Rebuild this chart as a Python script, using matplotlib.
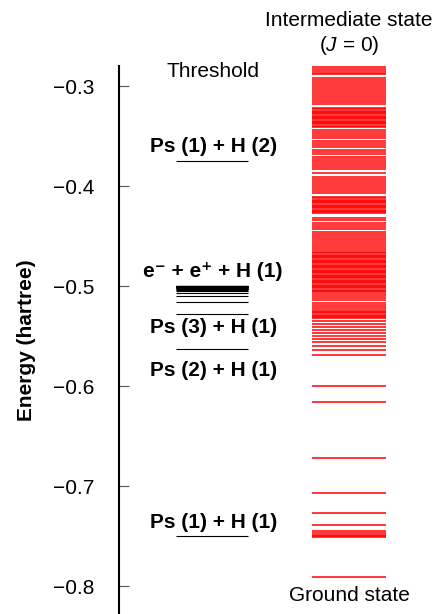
import matplotlib
matplotlib.use("Agg")
import matplotlib.pyplot as plt

plt.rcParams['font.family'] = ['Liberation Sans', 'DejaVu Sans']
plt.rcParams['mathtext.fontset'] = 'custom'
plt.rcParams['mathtext.rm'] = 'Liberation Sans'
plt.rcParams['mathtext.it'] = 'Liberation Sans:italic'

# ---- data (energies in hartree) ----
threshold_levels = [-0.375, -0.75, -0.5625, -0.5278, -0.5156, -0.5100, -0.5069,
                    -0.5051, -0.5039, -0.5031, -0.5025, -0.5021, -0.5017, -0.5015,
                    -0.5013, -0.5011, -0.5010, -0.5009, -0.5008, -0.5007, -0.5006,
                    -0.5005, -0.5004, -0.5003, -0.5002, -0.5001, -0.5000]

threshold_labels = ["Ps (1) + H (2)", "e\u207b + e\u207a + H (1)", "Ps (3) + H (1)",
                    "Ps (2) + H (1)", "Ps (1) + H (1)"]
threshold_label_E = [-0.3606, -0.4856, -0.5416, -0.5846, -0.7366]

intermediate_levels = [
    -0.281, -0.283, -0.285, -0.287, -0.288,
    -0.292, -0.294, -0.296, -0.298, -0.300, -0.302, -0.304, -0.306, -0.308,
    -0.310, -0.312, -0.314, -0.316, -0.318,
    -0.322, -0.323, -0.3245, -0.326, -0.327, -0.328, -0.3295, -0.331, -0.332,
    -0.333, -0.3345, -0.336, -0.337, -0.338, -0.3395, -0.341,
    -0.344, -0.346, -0.348, -0.350, -0.352,
    -0.355, -0.357, -0.359, -0.361,
    -0.364, -0.366, -0.368,
    -0.371, -0.373, -0.375, -0.377, -0.379, -0.381, -0.383,
    -0.387,
    -0.391, -0.393, -0.395, -0.397, -0.399, -0.401, -0.403, -0.405, -0.407,
    -0.411, -0.412, -0.4135, -0.415, -0.416, -0.417, -0.4185, -0.420, -0.421,
    -0.422, -0.4235, -0.425, -0.426, -0.427,
    -0.432, -0.434,
    -0.437, -0.439, -0.441, -0.443,
    -0.446, -0.448, -0.450, -0.452, -0.454, -0.456, -0.458, -0.460, -0.462, -0.464,
    -0.466, -0.467, -0.4685, -0.470, -0.471, -0.472, -0.4735, -0.475, -0.476,
    -0.477, -0.4785, -0.480, -0.481, -0.482, -0.4835, -0.485, -0.486, -0.487,
    -0.4885, -0.490, -0.491, -0.492, -0.4935, -0.495, -0.496, -0.497, -0.4985,
    -0.500, -0.501, -0.502, -0.5035, -0.505, -0.506,
    -0.508, -0.510, -0.512, -0.514,
    -0.517, -0.519, -0.521, -0.523, -0.525,
    -0.526, -0.527, -0.5285, -0.530, -0.531, -0.532,
    -0.535, -0.538, -0.541, -0.544, -0.547, -0.550, -0.553, -0.556, -0.560,
    -0.564, -0.569,
    -0.600, -0.616, -0.672, -0.707, -0.727, -0.739, -0.745, -0.747, -0.749,
    -0.750, -0.751,
    -0.791,
]

yticks = [-0.3, -0.4, -0.5, -0.6, -0.7, -0.8]
ytick_labels = ["\u22120.3", "\u22120.4", "\u22120.5", "\u22120.6", "\u22120.7", "\u22120.8"]

# ---- figure ----
W, H = 435, 614
fig = plt.figure(figsize=(W / 100, H / 100), dpi=100)
ax = fig.add_axes([119.4 / W, 0.0, 315.6 / W, 548 / H])
ax.set_xlim(0, 1)
ax.set_ylim(-0.828, -0.28)

for s in ['top', 'right', 'bottom']:
    ax.spines[s].set_visible(False)
ax.spines['left'].set_linewidth(1.5)
ax.spines['left'].set_color('black')
ax.set_xticks([])
ax.set_yticks(yticks)
ax.set_yticklabels(ytick_labels, fontsize=15)
ax.tick_params(axis='y', direction='in', length=7, width=0.8, color='#555555', pad=18)
ax.set_ylabel("Energy (hartree)", fontsize=15, fontweight='bold', labelpad=12)

# threshold (black) levels
ax.hlines(threshold_levels, 0.179, 0.407, colors='black', linewidth=0.8)
for lab, e in zip(threshold_labels, threshold_label_E):
    ax.text(0.297, e, lab, ha='center', va='center', fontsize=15, fontweight='bold')

# intermediate (red) levels
ax.hlines(intermediate_levels, 0.610, 0.845, colors='#ff0000', linewidth=1.1)

ax.text(0.297, -0.2856, "Threshold", ha='center', va='center', fontsize=15)
ax.text(0.7275, -0.8096, "Ground state", ha='center', va='center', fontsize=15)
ax.text(0.7275, -0.2346, "Intermediate state", ha='center', va='center', fontsize=15, clip_on=False)
ax.text(0.7275, -0.2591, r"($\mathit{J}$ = 0)", ha='center', va='center', fontsize=15, clip_on=False)

fig.savefig("out.png", dpi=100)
